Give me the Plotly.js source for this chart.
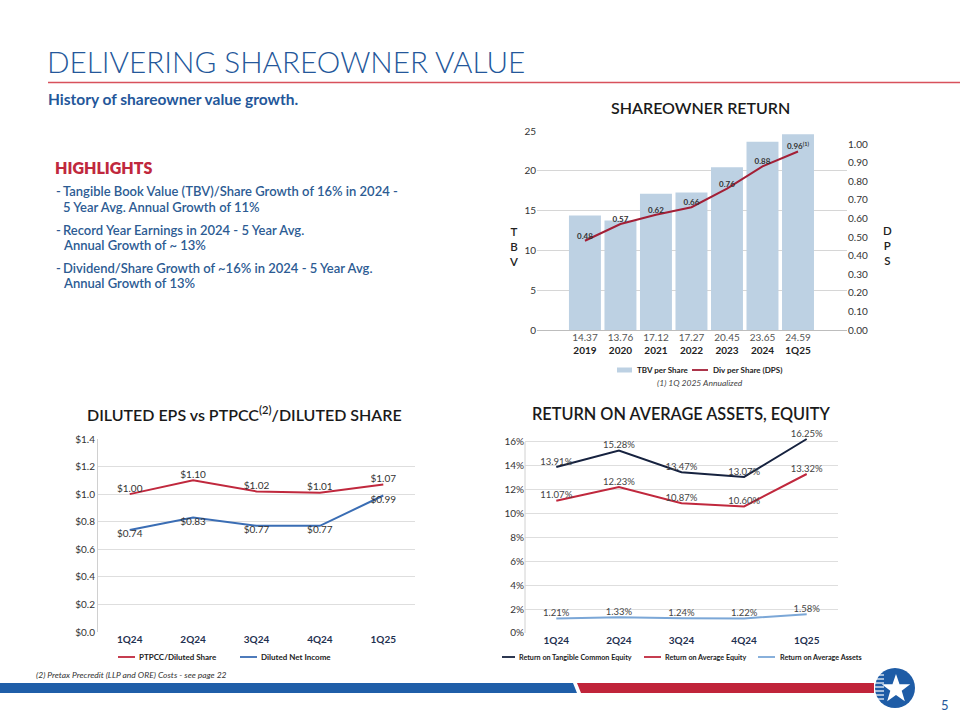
<!DOCTYPE html>
<html>
<head>
<meta charset="utf-8">
<script src="https://cdn.plot.ly/plotly-3.0.1.min.js"></script>
<style>html,body{margin:0;padding:0;background:#fff;}#chart{width:960px;height:720px;}</style>
</head>
<body>
<div id="chart"></div>
<script>
// ---------- DATA ----------
const years = ['2019', '2020', '2021', '2022', '2023', '2024', '1Q25'];
const tbvPerShare = [14.37, 13.76, 17.12, 17.27, 20.45, 23.65, 24.59];
const divPerShare = [0.48, 0.57, 0.62, 0.66, 0.76, 0.88, 0.96];
const dpsLabels = ['0.48', '0.57', '0.62', '0.66', '0.76', '0.88', '0.96<sup>(1)</sup>'];

const quarters = ['1Q24', '2Q24', '3Q24', '4Q24', '1Q25'];
const ptpccPerShare = [1.00, 1.10, 1.02, 1.01, 1.07];
const dilutedNetIncome = [0.74, 0.83, 0.77, 0.77, 0.99];

const rotce = [13.91, 15.28, 13.47, 13.07, 16.25];
const roe = [11.07, 12.23, 10.87, 10.60, 13.32];
const roaa = [1.21, 1.33, 1.24, 1.22, 1.58];

// ---------- helpers ----------
const W = 960, H = 720;
const px = x => x / W;
const py = y => 1 - y / H;
const FONT = 'Lato, "Open Sans", sans-serif';

const money = v => '$' + v.toFixed(2);
const pct = v => v.toFixed(2) + '%';

const C = {
  bar: '#bdd1e3', dps: '#a31f36', red: '#c0283d', blue: '#3a6db4',
  navy: '#16223f', light: '#7ba7d7'
};

const traces = [
  {
    type: 'bar', x: years, y: tbvPerShare, name: 'TBV per Share',
    marker: {color: C.bar}, width: 0.9,
    xaxis: 'x', yaxis: 'y', hoverinfo: 'skip'
  },
  {
    type: 'scatter', mode: 'lines+text', x: years, y: divPerShare, name: 'Div per Share (DPS)',
    text: dpsLabels, textposition: 'top center',
    textfont: {family: FONT, size: 8, color: '#333', weight: 700},
    line: {color: C.dps, width: 2}, cliponaxis: false,
    xaxis: 'x', yaxis: 'y2', hoverinfo: 'skip'
  },
  {
    type: 'scatter', mode: 'lines+text', x: quarters, y: ptpccPerShare, name: 'PTPCC/Diluted Share',
    text: ptpccPerShare.map(money), textposition: 'top center',
    textfont: {family: FONT, size: 10, color: '#333'},
    line: {color: C.red, width: 2}, cliponaxis: false,
    xaxis: 'x2', yaxis: 'y3', hoverinfo: 'skip'
  },
  {
    type: 'scatter', mode: 'lines+text', x: quarters, y: dilutedNetIncome, name: 'Diluted Net Income',
    text: dilutedNetIncome.map(money), textposition: 'bottom center',
    textfont: {family: FONT, size: 10, color: '#333'},
    line: {color: C.blue, width: 2}, cliponaxis: false,
    xaxis: 'x2', yaxis: 'y3', hoverinfo: 'skip'
  },
  {
    type: 'scatter', mode: 'lines+text', x: quarters, y: rotce, name: 'Return on Tangible Common Equity',
    text: rotce.map(pct), textposition: 'top center',
    textfont: {family: FONT, size: 9.5, color: '#444'},
    line: {color: C.navy, width: 2}, cliponaxis: false,
    xaxis: 'x3', yaxis: 'y4', hoverinfo: 'skip'
  },
  {
    type: 'scatter', mode: 'lines+text', x: quarters, y: roe, name: 'Return on Average Equity',
    text: roe.map(pct), textposition: 'top center',
    textfont: {family: FONT, size: 9.5, color: '#444'},
    line: {color: C.red, width: 2}, cliponaxis: false,
    xaxis: 'x3', yaxis: 'y4', hoverinfo: 'skip'
  },
  {
    type: 'scatter', mode: 'lines+text', x: quarters, y: roaa, name: 'Return on Average Assets',
    text: roaa.map(pct), textposition: 'top center',
    textfont: {family: FONT, size: 9.5, color: '#444'},
    line: {color: C.light, width: 2}, cliponaxis: false,
    xaxis: 'x3', yaxis: 'y4', hoverinfo: 'skip'
  }
];

const tickFont = {family: FONT, size: 10, color: '#333'};
const qTickFont = {family: FONT, size: 10, color: '#1f3150', weight: 700};

const yearTicks = years.map((yr, i) =>
  '<span style="color:#555">' + tbvPerShare[i].toFixed(2) + '</span><br><b>' + yr + '</b>');

// star logo path
function starPath(cx, cy, R, r) {
  let d = '';
  for (let i = 0; i < 10; i++) {
    const a = (-90 + i * 36) * Math.PI / 180;
    const rad = i % 2 ? r : R;
    const x = cx + rad * Math.cos(a), y = cy + rad * Math.sin(a);
    d += (i ? ' L ' : 'M ') + px(x).toFixed(5) + ' ' + py(y).toFixed(5);
  }
  return d + ' Z';
}
function quad(pts) {
  return 'M ' + pts.map(p => px(p[0]).toFixed(5) + ' ' + py(p[1]).toFixed(5)).join(' L ') + ' Z';
}
function hline(x0, x1, y, color, width) {
  return {type: 'line', xref: 'paper', yref: 'paper', x0: px(x0), x1: px(x1), y0: py(y), y1: py(y),
          line: {color: color, width: width}};
}

const shapes = [
  hline(48, 960, 82.5, '#d8515c', 1.5),
  {type: 'path', xref: 'paper', yref: 'paper', path: quad([[0, 683], [573, 683], [577, 693], [0, 693]]),
   fillcolor: '#1f5ea8', line: {width: 0}},
  {type: 'path', xref: 'paper', yref: 'paper', path: quad([[577, 683], [874, 683], [874, 693], [581, 693]]),
   fillcolor: '#c0243a', line: {width: 0}},
  {type: 'circle', xref: 'paper', yref: 'paper', x0: px(875), x1: px(915), y0: py(708), y1: py(668),
   fillcolor: '#1e5ca6', line: {width: 0}},
  // legend swatches
  {type: 'rect', xref: 'paper', yref: 'paper', x0: px(617), x1: px(632), y0: py(372.5), y1: py(367.5),
   fillcolor: C.bar, line: {width: 0}},
  hline(692, 708, 370, C.dps, 1.8),
  hline(118, 135, 657, C.red, 1.8),
  hline(240, 257, 657, C.blue, 1.8),
  hline(502, 515, 657, C.navy, 1.8),
  hline(644, 661, 657, C.red, 1.8),
  hline(758, 775, 657, C.light, 1.8),
  // left axis line of the bottom-right chart, from 0% to 16%
  {type: 'line', xref: 'paper', yref: 'paper', x0: px(525), x1: px(525), y0: py(633), y1: py(442),
   line: {color: '#d0d0d0', width: 1}}
];
for (let k = 0; k < 7; k++) {
  const yy = 675 + k * 4;
  shapes.push(hline(874, 884, yy, '#ffffff', 1.2));
}
shapes.push({type: 'path', xref: 'paper', yref: 'paper', path: starPath(896, 689, 15, 6),
             fillcolor: '#ffffff', line: {width: 0}});

function ann(text, x, y, opts) {
  return Object.assign({text: text, xref: 'paper', yref: 'paper', x: px(x), y: py(y),
    xanchor: 'left', yanchor: 'middle', showarrow: false}, opts || {});
}
const bulletFont = {family: FONT, size: 13, color: '#2c5b93', weight: 600};
const titleFont = {family: FONT, size: 16, color: '#1a1a1a', weight: 600};
const axLetter = {family: FONT, size: 11.5, color: '#222', weight: 600};
const legFont8 = {family: FONT, size: 8, color: '#222', weight: 700};
const legFont7 = {family: FONT, size: 7.2, color: '#222', weight: 700};

const annotations = [
  ann('DELIVERING SHAREOWNER VALUE', 45, 61, {font: {family: FONT, size: 29.7, color: '#24579a', weight: 300}}),
  ann('History of shareowner value growth.', 46, 99, {font: {family: FONT, size: 15.5, color: '#24579a', weight: 700}}),
  ann('HIGHLIGHTS', 53, 167, {font: {family: FONT, size: 16, color: '#c0283d', weight: 800}}),
  ann('-', 54, 191, {font: bulletFont}),
  ann('Tangible Book Value (TBV)/Share Growth of 16% in 2024 -', 61, 191, {font: bulletFont}),
  ann('5 Year Avg. Annual Growth of 11%', 61, 207, {font: bulletFont}),
  ann('-', 54, 230, {font: bulletFont}),
  ann('Record Year Earnings in 2024 - 5 Year Avg.', 61, 230, {font: bulletFont}),
  ann('Annual Growth of ~ 13%', 61, 245, {font: bulletFont}),
  ann('-', 54, 268, {font: bulletFont}),
  ann('Dividend/Share Growth of ~16% in 2024 - 5 Year Avg.', 61, 268, {font: bulletFont}),
  ann('Annual Growth of 13%', 61, 283, {font: bulletFont}),

  ann('SHAREOWNER RETURN', 700, 107, {xanchor: 'center', font: titleFont}),
  ann('DILUTED EPS vs PTPCC<sup>(2)</sup>/DILUTED SHARE', 245, 414, {xanchor: 'center', font: titleFont}),
  ann('RETURN ON AVERAGE ASSETS, EQUITY', 681, 414, {xanchor: 'center', font: Object.assign({}, titleFont, {size: 16.3})}),

  ann('T<br>B<br>V', 513, 246, {xanchor: 'center', font: axLetter}),
  ann('D<br>P<br>S', 887, 245, {xanchor: 'center', font: axLetter}),

  // legends
  ann('TBV per Share', 635, 370, {font: legFont8}),
  ann('Div per Share (DPS)', 711, 370, {font: legFont8}),
  ann('PTPCC/Diluted Share', 137, 657, {font: legFont8}),
  ann('Diluted Net Income', 259, 657, {font: legFont8}),
  ann('Return on Tangible Common Equity', 517, 657, {font: legFont7}),
  ann('Return on Average Equity', 663, 657, {font: legFont7}),
  ann('Return on Average Assets', 778, 657, {font: legFont7}),

  ann('(1) 1Q 2025 Annualized', 700, 383, {xanchor: 'center', font: {family: FONT, size: 8.5, color: '#444', style: 'italic'}}),
  ann('(2) Pretax Precredit (LLP and ORE) Costs - see page 22', 34, 675, {font: {family: FONT, size: 8.5, color: '#333', style: 'italic'}}),
  ann('5', 945, 705, {xanchor: 'center', font: {family: FONT, size: 13, color: '#24579a'}})
];

// bottom-right: 0% at 633px, 16% at 442px; range extended above 16 so the 16.25 point shows
const rPxPerUnit = (633 - 442) / 16;
const rMax = 16.6;

const layout = {
  width: W, height: H, margin: {l: 0, r: 0, t: 0, b: 0},
  paper_bgcolor: '#ffffff', plot_bgcolor: 'rgba(0,0,0,0)',
  font: {family: FONT}, showlegend: false, bargap: 0.1,
  xaxis: {
    domain: [px(537), px(847)], anchor: 'y', type: 'category', range: [-1.35, 7.38],
    tickmode: 'array', tickvals: years, ticktext: yearTicks,
    tickfont: {family: FONT, size: 10, color: '#222'}, showgrid: false, zeroline: false,
    showline: false, ticks: ''
  },
  yaxis: {
    domain: [py(330), py(131)], anchor: 'x', range: [0, 25], dtick: 5,
    gridcolor: '#d6d6d6', gridwidth: 1, zeroline: true, zerolinecolor: '#bdbdbd', zerolinewidth: 1,
    tickfont: tickFont, ticks: ''
  },
  yaxis2: {
    overlaying: 'y', side: 'right', anchor: 'x', range: [0, 1.07], dtick: 0.1, tickformat: '.2f',
    showgrid: false, zeroline: false, tickfont: tickFont, ticks: ''
  },
  xaxis2: {
    domain: [px(98), px(415)], anchor: 'y3', type: 'category', range: [-0.5, 4.5],
    tickfont: qTickFont, showgrid: false, zeroline: false, ticks: '',
    showline: false
  },
  yaxis3: {
    domain: [py(632), py(439)], anchor: 'x2', range: [0, 1.4], dtick: 0.2,
    tickprefix: '$', tickformat: '.1f', gridcolor: '#dedede', zeroline: false,
    tickfont: tickFont, ticks: '', showline: true, linecolor: '#d0d0d0', linewidth: 1
  },
  xaxis3: {
    domain: [px(525), px(838)], anchor: 'y4', type: 'category', range: [-0.5, 4.5],
    tickfont: qTickFont, showgrid: false, zeroline: false, ticks: '', showline: false
  },
  yaxis4: {
    domain: [py(633), py(633 - rMax * rPxPerUnit)], anchor: 'x3', range: [0, rMax],
    tick0: 0, dtick: 2, ticksuffix: '%', gridcolor: '#dedede', zeroline: false,
    tickfont: tickFont, ticks: '', showline: false
  },
  shapes: shapes,
  annotations: annotations
};

Plotly.newPlot('chart', traces, layout, {staticPlot: true, displayModeBar: false});
</script>
</body>
</html>
